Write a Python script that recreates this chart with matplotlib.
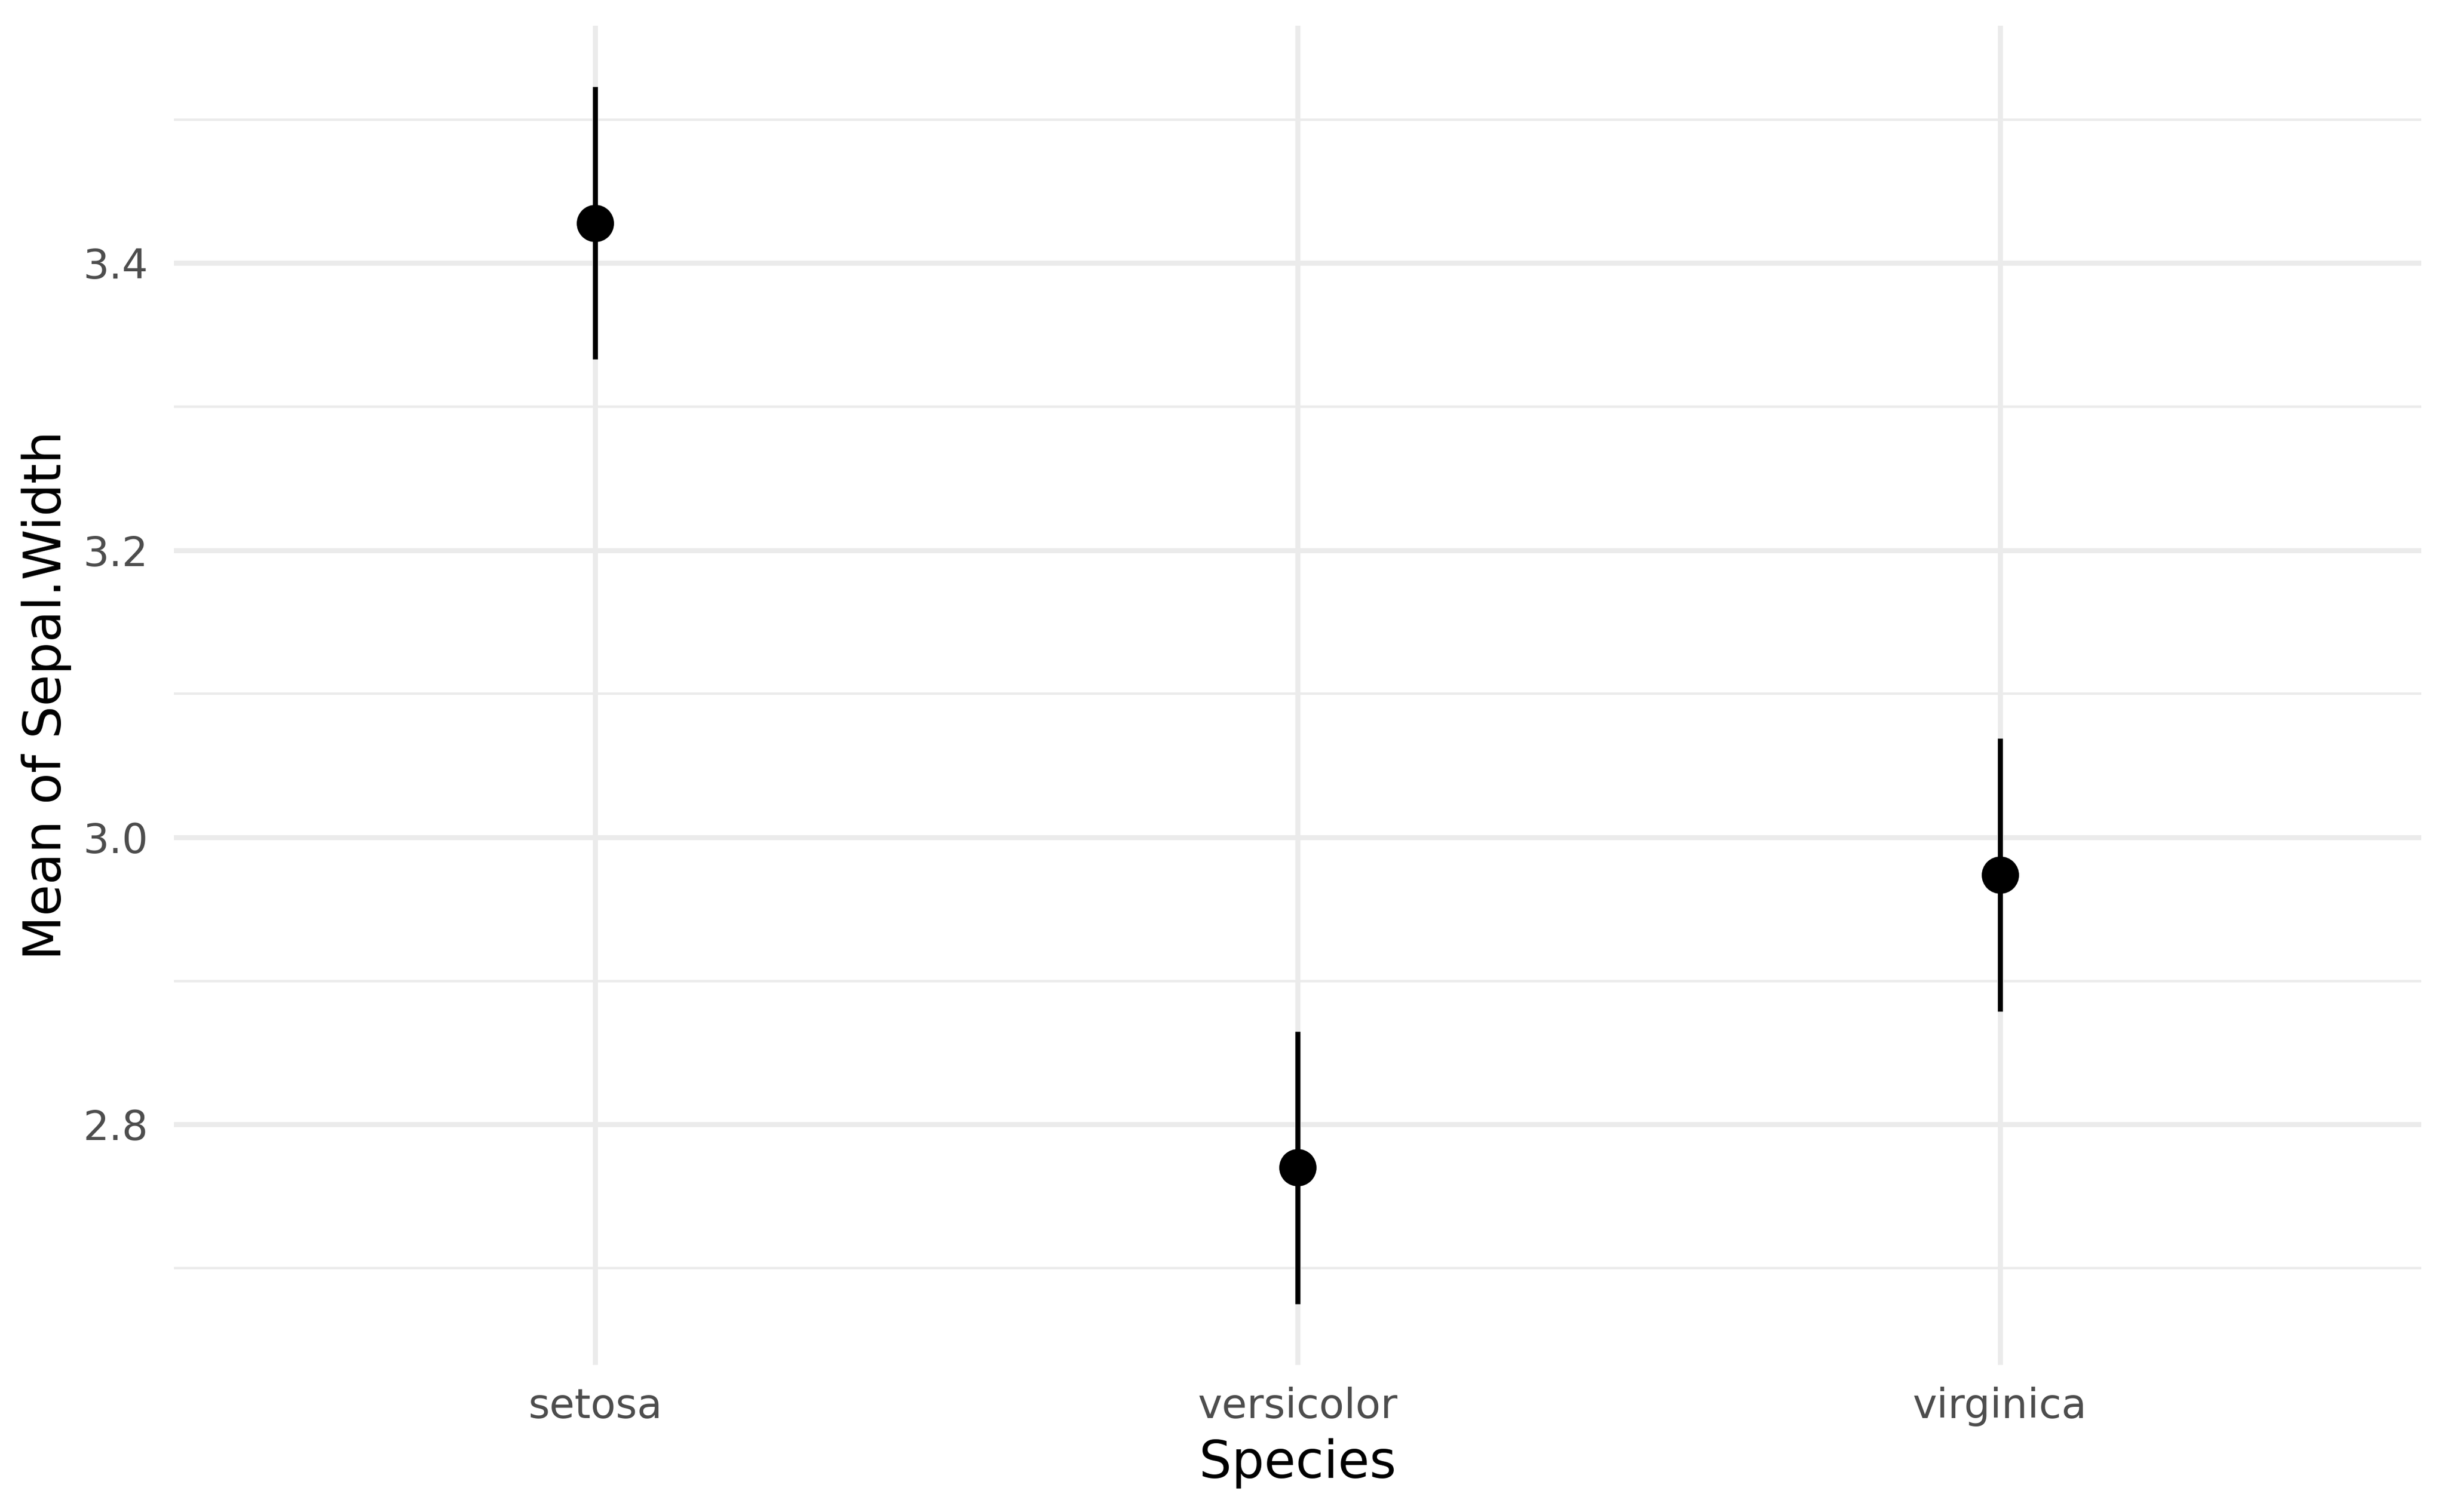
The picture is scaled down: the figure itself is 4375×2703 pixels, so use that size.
import numpy as np
import matplotlib
matplotlib.use("Agg")
import matplotlib.pyplot as plt
from matplotlib.ticker import MultipleLocator, FormatStrFormatter

# data
species = ["setosa", "versicolor", "virginica"]
means = [3.428, 2.770, 2.974]
lower = [3.333, 2.675, 2.879]
upper = [3.523, 2.865, 3.069]

plt.rcParams["font.family"] = ["DejaVu Sans"]

fig = plt.figure(figsize=(4375 / 600, 2703 / 600), dpi=600)
ax = fig.add_axes([0.0711, 0.0973, 0.9184, 0.8857])

x = np.arange(1, len(species) + 1)
m = np.array(means)
yerr = [m - np.array(lower), np.array(upper) - m]
ax.errorbar(x, m, yerr=yerr, fmt="o", color="black", ms=7,
            elinewidth=1.08, capsize=0, zorder=3)

# ggplot-style expansion: 0.6 on discrete x, 5% on y
ax.set_xlim(0.4, 3.6)
pad = 0.05 * (max(upper) - min(lower))
ax.set_ylim(min(lower) - pad, max(upper) + pad)
ax.set_xticks(x)
ax.set_xticklabels(species)
ax.yaxis.set_major_locator(MultipleLocator(0.2))
ax.yaxis.set_minor_locator(MultipleLocator(0.1))
ax.yaxis.set_major_formatter(FormatStrFormatter("%.1f"))

ax.grid(True, which="major", color="#EBEBEB", linewidth=1.07)
ax.grid(True, which="minor", axis="y", color="#EBEBEB", linewidth=0.53)
ax.set_axisbelow(True)
for s in ax.spines.values():
    s.set_visible(False)
ax.tick_params(which="both", length=0, labelsize=8.8, labelcolor="#4D4D4D")
ax.tick_params(axis="x", pad=4.7)
ax.tick_params(axis="y", pad=5.5)

ax.set_xlabel("Species", fontsize=11, color="black", labelpad=2.5)
ax.set_ylabel("Mean of Sepal.Width", fontsize=11, color="black", labelpad=2.5)

fig.savefig("out.png", dpi=600, facecolor="white")
